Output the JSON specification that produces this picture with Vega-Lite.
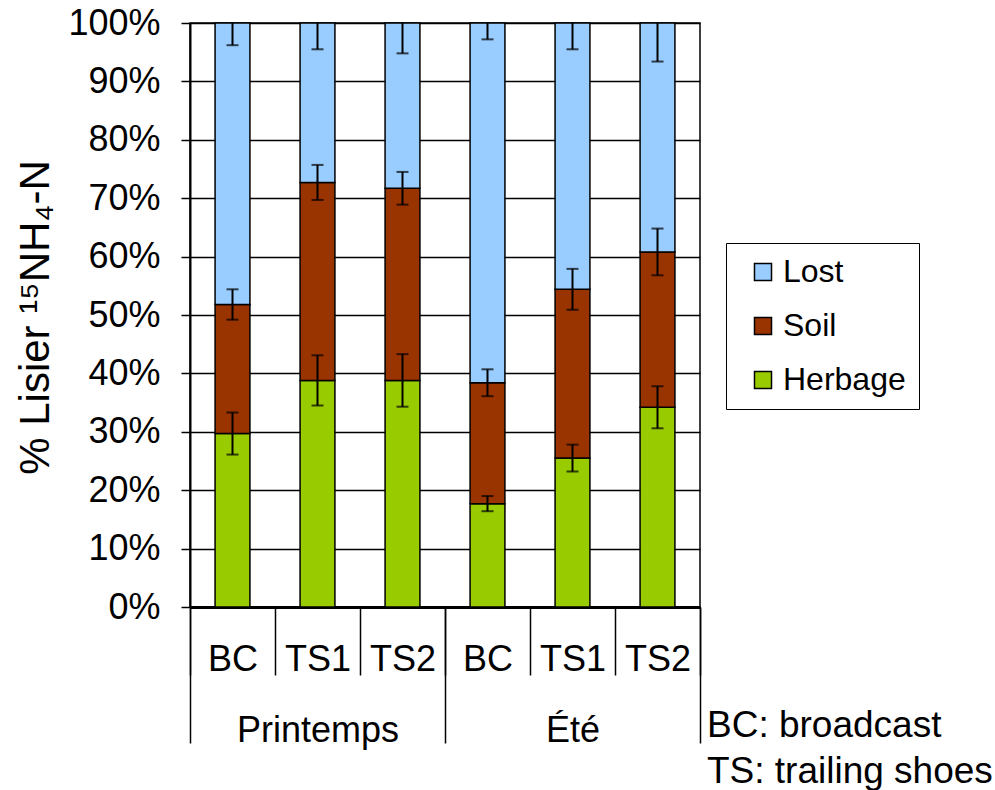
{
  "$schema": "https://vega.github.io/schema/vega-lite/v6.json",
  "width": 510,
  "height": 584,
  "autosize": {"type": "none"},
  "padding": {"left": 190, "top": 23, "right": 295, "bottom": 183},
  "background": "white",
  "config": {
    "font": "Liberation Sans",
    "view": {"stroke": "black", "strokeWidth": 1.5},
    "axis": {"labelFont": "Liberation Sans", "titleFont": "Liberation Sans", "labelColor": "black", "titleColor": "black"}
  },
  "title": {
    "text": ["BC: broadcast", "TS: trailing shoes"],
    "orient": "bottom",
    "anchor": "end",
    "frame": "group",
    "align": "left",
    "baseline": "alphabetic",
    "dx": 7,
    "dy": -15,
    "fontSize": 37,
    "fontWeight": "normal",
    "font": "Liberation Sans",
    "color": "black",
    "lineHeight": 46
  },
  "data": {
    "values": [
      {"season": "Printemps", "treatment": "BC", "component": "Herbage", "value": 29.7, "err": 3.6},
      {"season": "Printemps", "treatment": "BC", "component": "Soil", "value": 22.1, "err": 2.6},
      {"season": "Printemps", "treatment": "BC", "component": "Lost", "value": 48.2, "err": 3.8},
      {"season": "Printemps", "treatment": "TS1", "component": "Herbage", "value": 38.8, "err": 4.3},
      {"season": "Printemps", "treatment": "TS1", "component": "Soil", "value": 33.9, "err": 3.0},
      {"season": "Printemps", "treatment": "TS1", "component": "Lost", "value": 27.3, "err": 4.5},
      {"season": "Printemps", "treatment": "TS2", "component": "Herbage", "value": 38.8, "err": 4.5},
      {"season": "Printemps", "treatment": "TS2", "component": "Soil", "value": 32.9, "err": 2.8},
      {"season": "Printemps", "treatment": "TS2", "component": "Lost", "value": 28.3, "err": 5.2},
      {"season": "Été", "treatment": "BC", "component": "Herbage", "value": 17.7, "err": 1.3},
      {"season": "Été", "treatment": "BC", "component": "Soil", "value": 20.7, "err": 2.3},
      {"season": "Été", "treatment": "BC", "component": "Lost", "value": 61.6, "err": 2.8},
      {"season": "Été", "treatment": "TS1", "component": "Herbage", "value": 25.5, "err": 2.3},
      {"season": "Été", "treatment": "TS1", "component": "Soil", "value": 28.9, "err": 3.5},
      {"season": "Été", "treatment": "TS1", "component": "Lost", "value": 45.6, "err": 4.5},
      {"season": "Été", "treatment": "TS2", "component": "Herbage", "value": 34.2, "err": 3.6},
      {"season": "Été", "treatment": "TS2", "component": "Soil", "value": 26.6, "err": 4.0},
      {"season": "Été", "treatment": "TS2", "component": "Lost", "value": 39.2, "err": 6.6}
    ]
  },
  "transform": [
    {"calculate": "datum.season + ' ' + datum.treatment", "as": "bar"},
    {"calculate": "indexof(['Herbage', 'Soil', 'Lost'], datum.component)", "as": "stackOrder"},
    {"stack": "value", "groupby": ["bar"], "sort": [{"field": "stackOrder", "order": "ascending"}], "as": ["v0", "v1"]}
  ],
  "layer": [
    {
      "encoding": {
        "x": {
          "field": "bar",
          "type": "nominal",
          "scale": {
            "domain": ["Printemps BC", "Printemps TS1", "Printemps TS2", "Été BC", "Été TS1", "Été TS2"],
            "paddingInner": 0,
            "paddingOuter": 0
          },
          "axis": {
            "orient": "bottom",
            "title": null,
            "labelExpr": "split(datum.label, ' ')[1]",
            "labelAngle": 0,
            "labelFontSize": 36,
            "labelBaseline": "alphabetic",
            "labelPadding": -5,
            "labelOverlap": false,
            "tickBand": "extent",
            "tickSize": 68,
            "tickColor": "black",
            "tickWidth": 1.5,
            "domainColor": "black",
            "domainWidth": 3,
            "grid": false
          }
        }
      },
      "layer": [
        {
          "mark": {"type": "bar", "width": {"band": 0.41}, "stroke": "black", "strokeWidth": 1.5},
          "encoding": {
            "y": {
              "field": "v1",
              "type": "quantitative",
              "title": "% Lisier ¹⁵NH₄-N",
              "scale": {"domain": [0, 100], "nice": false},
              "axis": {
                "titleFontSize": 42,
                "titleFontWeight": "normal",
                "titleAngle": -90,
                "titleAlign": "center",
                "titleBaseline": "alphabetic",
                "titleX": -142,
                "titleY": 294,
                "values": [0, 10, 20, 30, 40, 50, 60, 70, 80, 90, 100],
                "labelExpr": "datum.value + '%'",
                "labelFontSize": 36,
                "labelPadding": 21,
                "tickSize": 9,
                "tickColor": "black",
                "tickWidth": 1.5,
                "domainColor": "black",
                "domainWidth": 2,
                "grid": true,
                "gridColor": "black",
                "gridWidth": 1.5,
                "gridOpacity": 1
              }
            },
            "y2": {"field": "v0"},
            "color": {
              "field": "component",
              "type": "nominal",
              "scale": {"domain": ["Lost", "Soil", "Herbage"], "range": ["#99CCFF", "#993300", "#99CC00"]},
              "legend": {
                "title": null,
                "orient": "none",
                "legendX": 536,
                "legendY": 220,
                "direction": "vertical",
                "strokeColor": "black",
                "fillColor": "white",
                "padding": 13,
                "rowPadding": 22,
                "symbolType": "square",
                "symbolSize": 290,
                "symbolStrokeColor": "black",
                "symbolStrokeWidth": 1.5,
                "symbolOffset": 8,
                "labelOffset": 4,
                "labelFontSize": 32,
                "labelFont": "Liberation Sans",
                "labelColor": "black"
              }
            }
          }
        },
        {
          "mark": {"type": "errorbar", "color": "black", "thickness": 2, "ticks": {"size": 12, "thickness": 2, "color": "black"}, "clip": true},
          "encoding": {
            "y": {"field": "v1", "type": "quantitative", "title": "% Lisier ¹⁵NH₄-N"},
            "yError": {"field": "err"}
          }
        }
      ]
    },
    {
      "mark": {"type": "rule", "opacity": 0},
      "encoding": {
        "x": {
          "field": "season",
          "type": "nominal",
          "scale": {"domain": ["Printemps", "Été"], "paddingInner": 0, "paddingOuter": 0},
          "axis": {
            "orient": "bottom",
            "title": null,
            "labelAngle": 0,
            "labelFontSize": 36,
            "labelBaseline": "alphabetic",
            "labelPadding": -2,
            "labelOverlap": false,
            "tickBand": "extent",
            "tickSize": 136,
            "tickColor": "black",
            "tickWidth": 1.5,
            "domain": false,
            "grid": false,
            "encode": {"ticks": {"update": {"y2": {"signal": "datum.index === 1 ? 97 : 136"}}}}
          }
        }
      }
    }
  ],
  "resolve": {"scale": {"x": "independent"}}
}
